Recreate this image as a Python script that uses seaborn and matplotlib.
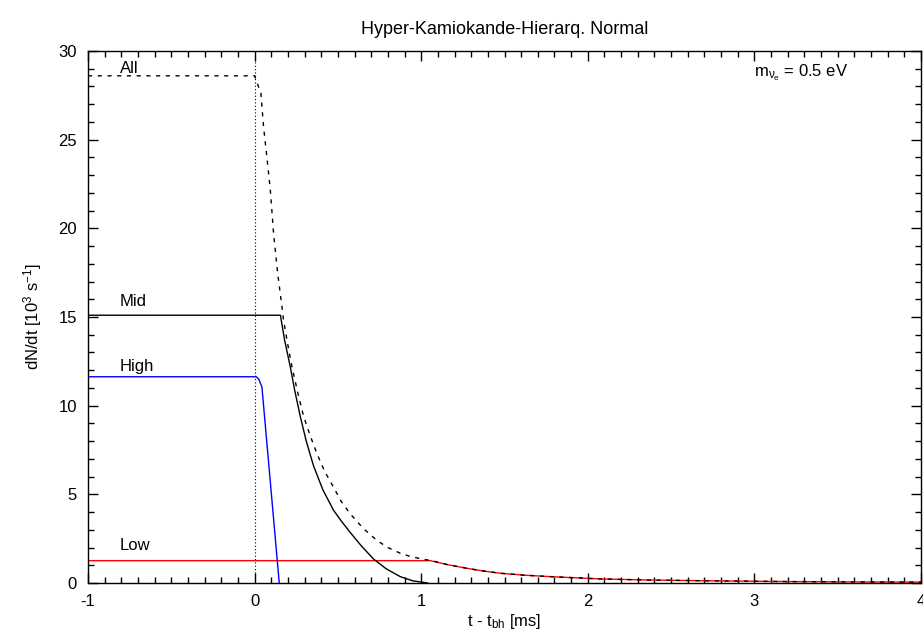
import matplotlib
matplotlib.use('Agg')
import matplotlib.pyplot as plt
import seaborn as sns

# values (t in ms, rate in 10^3 s^-1)
t_all = [-1.0, 0.0, 0.004, 0.038, 0.054, 0.074, 0.094, 0.114, 0.138, 0.164, 0.174,
         0.2, 0.224, 0.26, 0.294, 0.334, 0.374, 0.42, 0.474, 0.52, 0.574, 0.65,
         0.734, 0.8, 0.874, 0.94, 1.014, 1.064, 1.16, 1.274, 1.37,
         1.474, 1.62, 1.774, 2.074, 2.35, 2.674, 3.2, 3.6, 4.0]
n_all = [28.6, 28.6, 28.5, 27.6, 25.7, 24.0, 22.2, 19.7, 17.5, 15.6, 14.8,
         13.4, 12.2, 10.7, 9.4, 8.3, 7.3, 6.3, 5.4, 4.6, 3.9, 3.1,
         2.4, 2.0, 1.68, 1.48, 1.34, 1.26, 1.03, 0.83, 0.68,
         0.55, 0.44, 0.36, 0.23, 0.17, 0.13, 0.08, 0.06, 0.05]

t_mid = [-1.0, 0.155, 0.18, 0.214, 0.24, 0.274, 0.31, 0.354, 0.41, 0.474, 0.52,
         0.574, 0.64, 0.714, 0.79, 0.874, 0.95, 1.04]
n_mid = [15.1, 15.1, 13.7, 12.2, 10.9, 9.4, 8.0, 6.6, 5.25, 4.1, 3.5,
         2.85, 2.1, 1.35, 0.8, 0.36, 0.12, 0.0]

t_high = [-1.0, 0.01, 0.025, 0.044, 0.148]
n_high = [11.63, 11.63, 11.5, 11.05, 0.0]

t_low = [-1.0, 1.054, 1.16, 1.274, 1.37, 1.474, 1.62, 1.774, 2.074, 2.35, 2.674, 3.2, 3.6, 4.0]
n_low = [1.26, 1.26, 1.03, 0.83, 0.68, 0.55, 0.44, 0.36, 0.23, 0.17, 0.13, 0.08, 0.06, 0.05]

labels = ['All', 'Mid', 'High', 'Low']
label_y = [29.0, 15.9, 12.2, 2.1]

sns.set_style('ticks')
plt.rcParams['font.family'] = ['Liberation Sans', 'DejaVu Sans']
plt.rcParams['mathtext.fontset'] = 'custom'
plt.rcParams['mathtext.rm'] = 'Liberation Sans'
plt.rcParams['mathtext.it'] = 'Liberation Sans'
plt.rcParams['axes.unicode_minus'] = False
plt.rcParams['text.color'] = 'black'
plt.rcParams['axes.labelcolor'] = 'black'
plt.rcParams['xtick.color'] = 'black'
plt.rcParams['ytick.color'] = 'black'

fs = 12

fig = plt.figure(figsize=(9.23, 6.4), dpi=100)
ax = fig.add_axes([88 / 923, 1 - 583 / 640, 833 / 923, 532 / 640])

ax.axvline(0, color='black', lw=0.8, ls=(0, (1, 2)), zorder=1)
sns.lineplot(x=t_low, y=n_low, color='red', lw=1, ax=ax, zorder=2)
sns.lineplot(x=t_high, y=n_high, color='blue', lw=1, ax=ax, zorder=2)
sns.lineplot(x=t_mid, y=n_mid, color='black', lw=1, ax=ax, zorder=2)
sns.lineplot(x=t_all, y=n_all, color='black', lw=1, ls=(0, (3, 4)), ax=ax, zorder=3)

for lab, y in zip(labels, label_y):
    ax.text(-0.81, y, lab, fontsize=fs, ha='left', va='center')

ax.text(3.0, 28.8, r'm$_{\nu_{e}}$ = 0.5 eV', fontsize=fs, ha='left', va='center')

ax.set_xlim(-1, 4)
ax.set_ylim(0, 30)
ax.set_xticks([-1, 0, 1, 2, 3, 4])
ax.set_yticks([0, 5, 10, 15, 20, 25, 30])
ax.set_xticks([i / 10 for i in range(-10, 41)], minor=True)
ax.set_yticks(list(range(0, 31)), minor=True)
ax.tick_params(which='both', direction='in', top=True, right=True, labelsize=fs, width=1, pad=8)
ax.tick_params(which='major', length=7)
ax.tick_params(which='minor', length=4)
for s in ax.spines.values():
    s.set_linewidth(1)
    s.set_color('black')

ax.set_title('Hyper-Kamiokande-Hierarq. Normal', fontsize=13, pad=12)
ax.set_xlabel(r't - t$_{\rm bh}$ [ms]', fontsize=fs, labelpad=2)
ax.set_ylabel(r'dN/dt [10$^{3}$ s$^{-1}$]', fontsize=fs, labelpad=10)

fig.savefig('out.png', dpi=100)
